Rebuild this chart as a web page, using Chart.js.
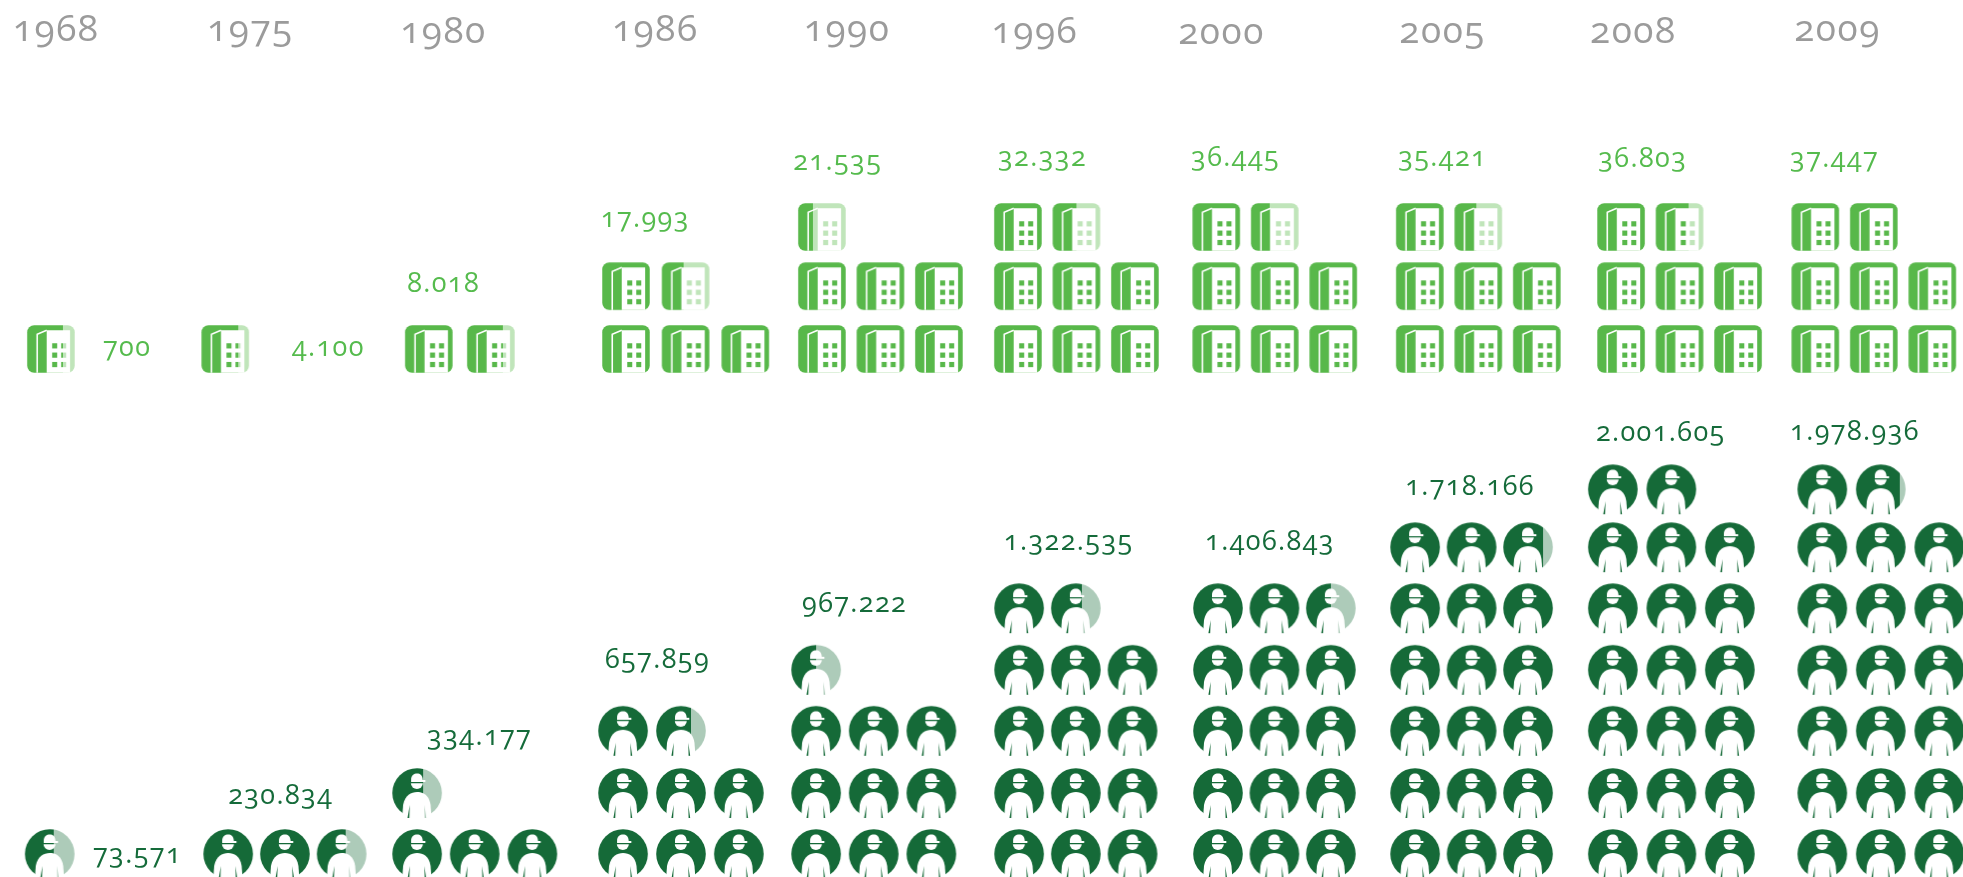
<!DOCTYPE html>
<html>
<head>
<meta charset="utf-8">
<title>Companies and workers</title>
<script src="https://cdn.jsdelivr.net/npm/chart.js@4/dist/chart.umd.min.js"></script>
<style>
    body { margin: 0; background: #fff; overflow: hidden; }
    #wrap { position: relative; width: 1963px; height: 877px; overflow: hidden; }
    .tag {
        position: absolute;
        transform: translateY(-50%);
        font-family: "Open Sans", sans-serif;
        font-variant-numeric: oldstyle-nums;
        white-space: nowrap;
        line-height: 1;
    }
    .year { font-size: 37px; color: #9b9b9b; letter-spacing: 1.5px; }
    .companies { font-size: 27px; color: #55bb4d; letter-spacing: 1.4px; }
    .workers { font-size: 27px; color: #156b3a; letter-spacing: 1.4px; }
</style>
</head>
<body>
<div id="wrap"><canvas id="chart" width="1963" height="877"></canvas></div>
<script>
const years = [1968, 1975, 1980, 1986, 1990, 1996, 2000, 2005, 2008, 2009];
const companies = [700, 4100, 8018, 17993, 21535, 32332, 36445, 35421, 36803, 37447];
const workers = [73571, 230834, 334177, 657859, 967222, 1322535, 1406843, 1718166, 2001605, 1978936];

// how many icons the picture fills for each year
const companyIcons = [0.76, 0.77, 1.76, 4.45, 6.32, 7.5, 7.4, 7.45, 7.69, 8];
const workerIcons = [0.58, 2.58, 3.62, 7.7, 9.5, 13.61, 14.5, 17.8, 20, 19.87];

// layout, in axis units (x = one icon slot, y = one row)
const perRow = 3;
const companyColumn = [0.87, 3.85, 7.33, 10.7, 14.05, 17.4, 20.79, 24.27, 27.71, 31.03];
const companyStep = [1, 1, 1.06, 1.02, 1, 1, 1, 1, 1, 1];
const workerColumn = [0.85, 3.9, 7.13, 10.65, 13.95, 17.42, 20.82, 24.19, 27.57, 31.15];
const workerStep = [1, 0.97, 0.985, 0.99, 0.985, 0.97, 0.965, 0.965, 1, 1];
const companyRows = [0, 1.03, 2];
const workerRows = [0, 1, 2.02, 3.02, 4.03, 5.03, 5.98];
const yearTagX = [0.22, 3.54, 6.84, 10.46, 13.74, 16.95, 20.14, 23.92, 27.18, 30.67];
const yearTagY = [5.29, 5.3, 5.27, 5.29, 5.3, 5.27, 5.25, 5.26, 5.27, 5.3];
const companyTagX = [1.76, 4.99, 6.96, 10.27, 13.56, 17.06, 20.36, 23.9, 27.32, 30.6];
const companyTagY = [0.06, 0.06, 1.12, 2.18, 3.11, 3.18, 3.18, 3.18, 3.16, 3.16];
const workerTagX = [1.59, 3.9, 7.3, 10.34, 13.71, 17.16, 20.6, 24.02, 27.28, 30.6];
const workerTagY = [0.04, 1.0, 1.97, 3.23, 4.15, 5.16, 5.16, 6.07, 6.95, 6.96];

const slotPx = 58.5;
const rowPx = 61;

function dotted(n) {
    return String(n).replace(/\B(?=(\d{3})+$)/g, '.');
}

function drawWorker(g, color) {
    const c = 27;
    g.fillStyle = color;
    g.beginPath();
    g.arc(c, c, 24.8, 0, Math.PI * 2);
    g.fill();
    g.fillStyle = '#fff';
    // body
    g.beginPath();
    g.moveTo(c - 15, c + 26);
    g.lineTo(c - 14, c + 12);
    g.bezierCurveTo(c - 12, c + 2, c - 6, c - 1, c, c - 1);
    g.bezierCurveTo(c + 6, c - 1, c + 12, c + 2, c + 13.5, c + 12);
    g.lineTo(c + 14.5, c + 26);
    g.closePath();
    g.fill();
    // hat and brim
    g.beginPath();
    g.moveTo(c - 6, c - 13);
    g.bezierCurveTo(c - 6, c - 18, c - 3, c - 19.5, c, c - 19.5);
    g.bezierCurveTo(c + 3, c - 19.5, c + 5.5, c - 18, c + 5.7, c - 13);
    g.lineTo(c + 8.3, c - 13);
    g.lineTo(c + 8.3, c - 11);
    g.lineTo(c - 6, c - 11);
    g.closePath();
    g.fill();
    // head
    g.beginPath();
    g.ellipse(c - 0.2, c - 9.8, 6, 5.8, 0, 0, Math.PI);
    g.fill();
    // arm lines, wider towards the bottom
    g.fillStyle = color;
    g.beginPath();
    g.moveTo(c - 7.3, c + 12);
    g.lineTo(c - 9.6, c + 25);
    g.lineTo(c - 7.8, c + 25);
    g.closePath();
    g.moveTo(c + 7.3, c + 12);
    g.lineTo(c + 7.6, c + 25);
    g.lineTo(c + 9.2, c + 25);
    g.closePath();
    g.fill();
}

function drawBuilding(g, color) {
    const s = 47.5, m = 1.25;
    g.save();
    g.translate(m, m);
    g.fillStyle = color;
    g.beginPath();
    g.roundRect(0, 0, s, s, 7);
    g.fill();
    g.fillStyle = '#fff';
    g.fillRect(19.5, 5, 23.4, s - 5);
    g.strokeStyle = '#fff';
    g.lineWidth = 1.6;
    g.beginPath();
    g.moveTo(10, s);
    g.lineTo(10, 9);
    g.lineTo(19.5, 5);
    g.stroke();
    g.fillStyle = color;
    [18, 27.3, 36.7].forEach(y => {
        g.fillRect(25, y, 5, 5.2);
        g.fillRect(34, y, 5, 5.2);
    });
    g.restore();
}

// icon with the filled part on the left and the rest faded
function makeIcon(draw, size, full, faded, share) {
    const cv = document.createElement('canvas');
    cv.width = cv.height = size;
    const g = cv.getContext('2d');
    const split = Math.round(1.25 + share * (size - 2.5));
    g.save();
    g.beginPath();
    g.rect(split, 0, size - split, size);
    g.clip();
    draw(g, faded);
    g.restore();
    g.save();
    g.beginPath();
    g.rect(0, 0, split, size);
    g.clip();
    draw(g, full);
    g.restore();
    return cv;
}

function buildPoints(icons, column, rows, step) {
    const points = [];
    icons.forEach((total, i) => {
        const count = Math.ceil(total);
        for (let n = 0; n < count; n++) {
            points.push({
                x: column[i] + (n % perRow) * step[i],
                y: rows[Math.floor(n / perRow)],
                share: Math.min(1, total - n)
            });
        }
    });
    return points;
}

const companyPoints = buildPoints(companyIcons, companyColumn, companyRows, companyStep);
const workerPoints = buildPoints(workerIcons, workerColumn, workerRows, workerStep);

const tagsPlugin = {
    id: 'tags',
    afterRender(chart) {
        const wrap = document.getElementById('wrap');
        wrap.querySelectorAll('.tag').forEach(el => el.remove());
        const put = (text, cls, xv, yv, axis) => {
            const el = document.createElement('div');
            el.className = 'tag ' + cls;
            el.textContent = text;
            el.style.left = chart.scales.x.getPixelForValue(xv) + 'px';
            el.style.top = chart.scales[axis].getPixelForValue(yv) + 'px';
            wrap.appendChild(el);
        };
        years.forEach((year, i) => {
            put(String(year), 'year', yearTagX[i], yearTagY[i], 'yCompany');
            put(dotted(companies[i]), 'companies', companyTagX[i], companyTagY[i], 'yCompany');
            put(dotted(workers[i]), 'workers', workerTagX[i], workerTagY[i], 'yWorker');
        });
    }
};

new Chart(document.getElementById('chart'), {
    type: 'scatter',
    data: {
        datasets: [
            {
                label: 'Companies',
                data: companyPoints,
                yAxisID: 'yCompany',
                clip: false,
                pointRadius: 25,
                pointStyle: ctx => makeIcon(drawBuilding, 50, '#58b84a', '#c0e5ba', ctx.raw.share)
            },
            {
                label: 'Workers',
                data: workerPoints,
                yAxisID: 'yWorker',
                clip: false,
                pointRadius: 27,
                pointStyle: ctx => makeIcon(drawWorker, 54, '#156a38', '#adcbb9', ctx.raw.share)
            }
        ]
    },
    options: {
        responsive: false,
        animation: false,
        layout: { padding: 0, autoPadding: false },
        plugins: { legend: { display: false }, tooltip: { enabled: false } },
        scales: {
            x: { type: 'linear', display: false, min: 0, max: 1963 / slotPx },
            yWorker: { type: 'linear', display: false, min: -(877 - 854) / rowPx, max: 854 / rowPx },
            yCompany: { type: 'linear', display: false, min: -(877 - 349) / rowPx, max: 349 / rowPx }
        }
    },
    plugins: [tagsPlugin]
});
</script>
</body>
</html>
